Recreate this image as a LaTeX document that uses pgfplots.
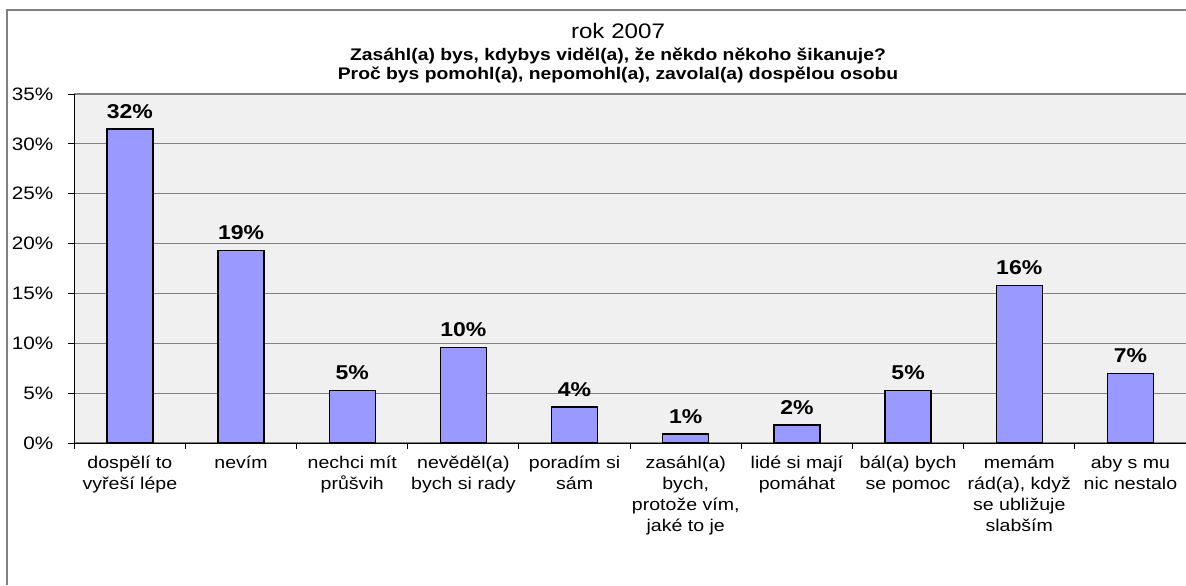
\documentclass[border=0pt]{standalone}
\usepackage{fontspec}
\setmainfont{Liberation Sans}[FakeStretch=1.15]
\usepackage{pgfplots}
\pgfplotsset{compat=1.18}
\definecolor{barfill}{RGB}{153,153,255}
\definecolor{plotbg}{RGB}{240,240,240}
\definecolor{gridc}{RGB}{128,128,128}
\begin{document}
\begin{tikzpicture}
\useasboundingbox (0pt,0pt) rectangle (593pt,292.5pt);
\draw[gridc, line width=0.75pt] (3.5pt,0pt) -- (3.5pt,287.5pt) -- (593pt,287.5pt);
\node[font=\fontsize{10.5}{12}\selectfont] at (309pt,277pt) {rok 2007};
\node[font=\bfseries\fontsize{8.4}{9.5}\selectfont, align=center] at (309pt,260pt)
  {Zasáhl(a) bys, kdybys viděl(a), že někdo někoho šikanuje?\\
   Proč bys pomohl(a), nepomohl(a), zavolal(a) dospělou osobu};
\begin{axis}[
    at={(37.15pt,71pt)}, anchor=south west,
    scale only axis,
    width=555.85pt, height=174.5pt,
    xmin=-0.5, xmax=9.5,
    ymin=0, ymax=35,
    ybar, bar width=23pt,
    axis background/.style={fill=plotbg},
    axis x line*=bottom, axis y line*=left,
    axis line style={black, line width=0.5pt},
    tick align=outside,
    major tick length=3pt,
    tick style={black, line width=0.5pt},
    ytick={0,5,...,35},
    yticklabel={\pgfmathprintnumber{\tick}\%},
    yticklabel style={font=\fontsize{9}{10}\selectfont, xshift=-4pt},
    xtick={-0.5,0.5,...,9.5},
    x tick label as interval,
    xticklabels={{dospělí to\\vyřeší lépe},{nevím},{nechci mít\\průšvih},
      {nevěděl(a)\\bych si rady},{poradím si\\sám},
      {zasáhl(a)\\bych,\\protože vím,\\jaké to je},{lidé si mají\\pomáhat},
      {bál(a) bych\\se pomoc},{memám\\rád(a), když\\se ubližuje\\slabším},
      {aby s mu\\nic nestalo}},
    xticklabel style={font=\fontsize{8.5}{10.5}\selectfont, align=center, yshift=0pt},
    ymajorgrids,
    grid style={gridc, line width=0.6pt},
    /pgf/number format/assume math mode=true,
    nodes near coords={\pgfmathprintnumber[fixed,precision=0]{\pgfplotspointmeta}\%},
    every node near coord/.append style={font=\bfseries\fontsize{10}{11}\selectfont,
      anchor=south, inner sep=0pt, yshift=5pt},
]
\addplot[fill=barfill, draw=black, line width=0.65pt] coordinates {
    (0,31.5) (1,19.3) (2,5.3) (3,9.6) (4,3.6)
    (5,0.9) (6,1.8) (7,5.3) (8,15.8) (9,7.0)
};
\end{axis}
\end{tikzpicture}
\end{document}
